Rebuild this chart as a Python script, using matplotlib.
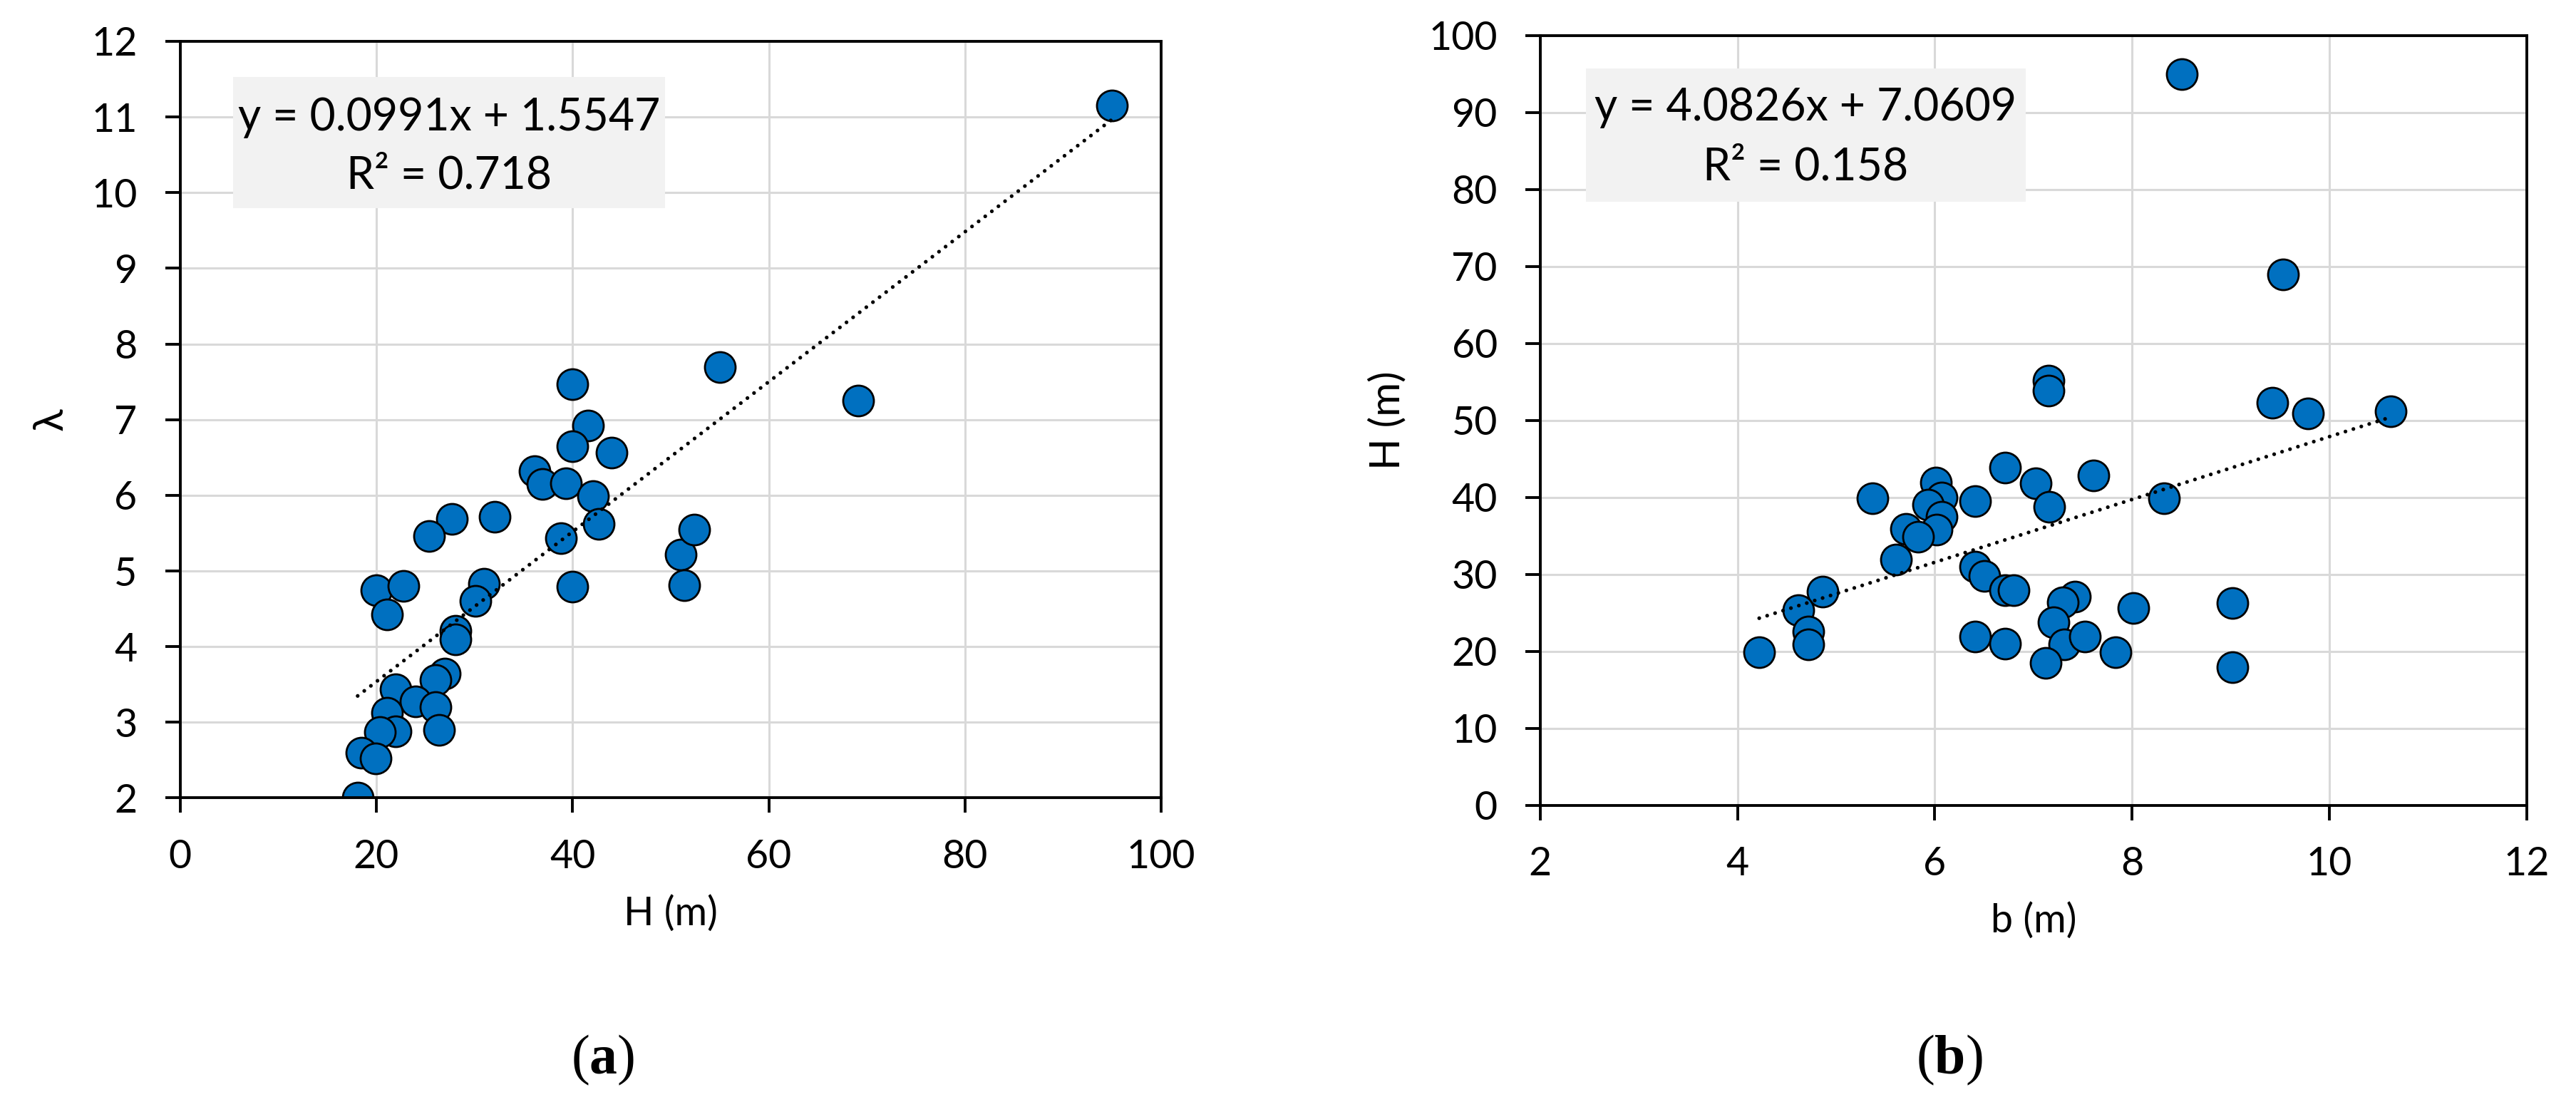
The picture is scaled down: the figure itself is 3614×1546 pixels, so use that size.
import matplotlib

matplotlib.use("Agg")
import matplotlib.pyplot as plt
from matplotlib.patches import Rectangle

# --- data ---
# panel (a): H (m) vs lambda
H_A = [95, 55, 69.1, 40, 41.6, 40, 44, 36.1, 36.9, 39.3, 42.1, 42.7, 38.8, 40,
       51, 52.4, 51.4, 27.7, 32.1, 25.4, 20, 22.8, 21.1, 31, 30.1, 28.1, 28.1,
       27, 26, 22, 24, 26, 26.4, 21.1, 22, 20.4, 18.5, 19.9, 18.1]
LAM_A = [11.15, 7.69, 7.25, 7.47, 6.92, 6.65, 6.56, 6.32, 6.15, 6.16, 5.99, 5.62,
         5.43, 4.79, 5.22, 5.55, 4.81, 5.69, 5.72, 5.46, 4.75, 4.80, 4.43, 4.83,
         4.60, 4.21, 4.10, 3.64, 3.56, 3.44, 3.28, 3.20, 2.90, 3.13, 2.88, 2.87,
         2.60, 2.52, 2.00]
FIT_A = (0.0991, 1.5547)
EQ_A = ["y = 0.0991x + 1.5547", "R² = 0.718"]

# panel (b): b (m) vs H (m)
B_B = [8.5, 9.53, 7.15, 7.15, 9.42, 9.78, 10.62, 6.71, 7.61, 7.02, 6.01, 6.07,
       5.37, 6.41, 5.93, 7.16, 8.32, 6.07, 5.71, 6.02, 5.83, 5.61, 6.41, 6.5,
       6.71, 6.8, 7.42, 7.30, 4.86, 4.62, 4.72, 4.72, 4.22, 6.41, 6.71, 7.2,
       7.31, 7.12, 7.52, 7.83, 8.01, 9.02, 9.02]
H_B = [95, 69, 55.2, 53.9, 52.3, 50.9, 51.2, 43.9, 42.8, 41.8, 41.9, 40.0,
       39.9, 39.5, 39.0, 38.8, 39.9, 37.5, 35.9, 35.8, 34.9, 31.9, 31.0, 29.8,
       27.9, 27.9, 27.1, 26.4, 27.7, 25.3, 22.6, 20.9, 19.9, 21.9, 21.0, 23.8,
       20.9, 18.5, 21.9, 19.9, 25.6, 26.3, 17.9]
FIT_B = (4.0826, 7.0609)
EQ_B = ["y = 4.0826x + 7.0609", "R² = 0.158"]

BLUE = "#0070c0"
GRID = "#d9d9d9"
BOX = "#f2f2f2"

plt.rcParams.update({
    "font.family": ["Lato", "DejaVu Sans"],
    "font.size": 20,
    "axes.linewidth": 1.4,
    "xtick.major.size": 7.6,
    "ytick.major.size": 7.6,
    "xtick.major.width": 1.4,
    "ytick.major.width": 1.4,
    "xtick.major.pad": 13,
    "ytick.major.pad": 14,
    "mathtext.fontset": "custom",
    "mathtext.rm": "Liberation Serif",
    "mathtext.bf": "Liberation Serif:bold",
})

fig = plt.figure(figsize=(18.07, 7.73), dpi=200)
ax_a = fig.add_axes([0.0699, 0.2759, 0.3809, 0.6866])
ax_b = fig.add_axes([0.5979, 0.2694, 0.3830, 0.6983])


def scatter_panel(ax, xs, ys, fit, eq, box, lines_y, xlim, xticks, ylim, yticks,
                  xlabel, ylabel):
    ax.scatter(xs, ys, s=240, c=BLUE, edgecolors="black", linewidths=1.0, zorder=3)
    x0, x1 = min(xs), max(xs)
    # Excel-style round-dot trendline, drawn over the markers
    ax.plot([x0, x1], [fit[0] * x0 + fit[1], fit[0] * x1 + fit[1]], color="black",
            lw=1.9, ls=(0, (0.01, 2.2)), dash_capstyle="round", zorder=4)
    ax.set_xlim(*xlim)
    ax.set_ylim(*ylim)
    ax.set_xticks(xticks)
    ax.set_yticks(yticks)
    ax.grid(True, color=GRID, lw=1.1)
    ax.set_axisbelow(True)
    ax.set_xlabel(xlabel, labelpad=10)
    ax.set_ylabel(ylabel, labelpad=11, fontsize=21)
    for s in ax.spines.values():
        s.set_zorder(5)
    # equation box (trendline label)
    bx0, bx1, by0, by1 = box
    ax.add_patch(Rectangle((bx0, by0), bx1 - bx0, by1 - by0, transform=ax.transAxes,
                           facecolor=BOX, edgecolor="none", zorder=2))
    cx = (bx0 + bx1) / 2
    for txt, ty in zip(eq, lines_y):
        ax.text(cx, ty, txt, transform=ax.transAxes, ha="center", va="center",
                fontsize=22.5, zorder=3)


scatter_panel(ax_a, H_A, LAM_A, FIT_A, EQ_A, (0.0543, 0.494, 0.7798, 0.9526),
              (0.899, 0.822), (0, 100), range(0, 101, 20), (2, 12), range(2, 13),
              "H (m)", "λ")
scatter_panel(ax_b, B_B, H_B, FIT_B, EQ_B, (0.0462, 0.4922, 0.7842, 0.9577),
              (0.906, 0.829), (2, 12), range(2, 13, 2), (0, 100), range(0, 101, 10),
              "b (m)", "H (m)")

fig.text(846 / 3614, 1 - 1487 / 1546, r"($\mathbf{a}$)", ha="center", va="center",
         fontsize=28, family="Liberation Serif")
fig.text(2735 / 3614, 1 - 1487 / 1546, r"($\mathbf{b}$)", ha="center", va="center",
         fontsize=28, family="Liberation Serif")

fig.savefig("out.png", dpi=200, facecolor="white")
